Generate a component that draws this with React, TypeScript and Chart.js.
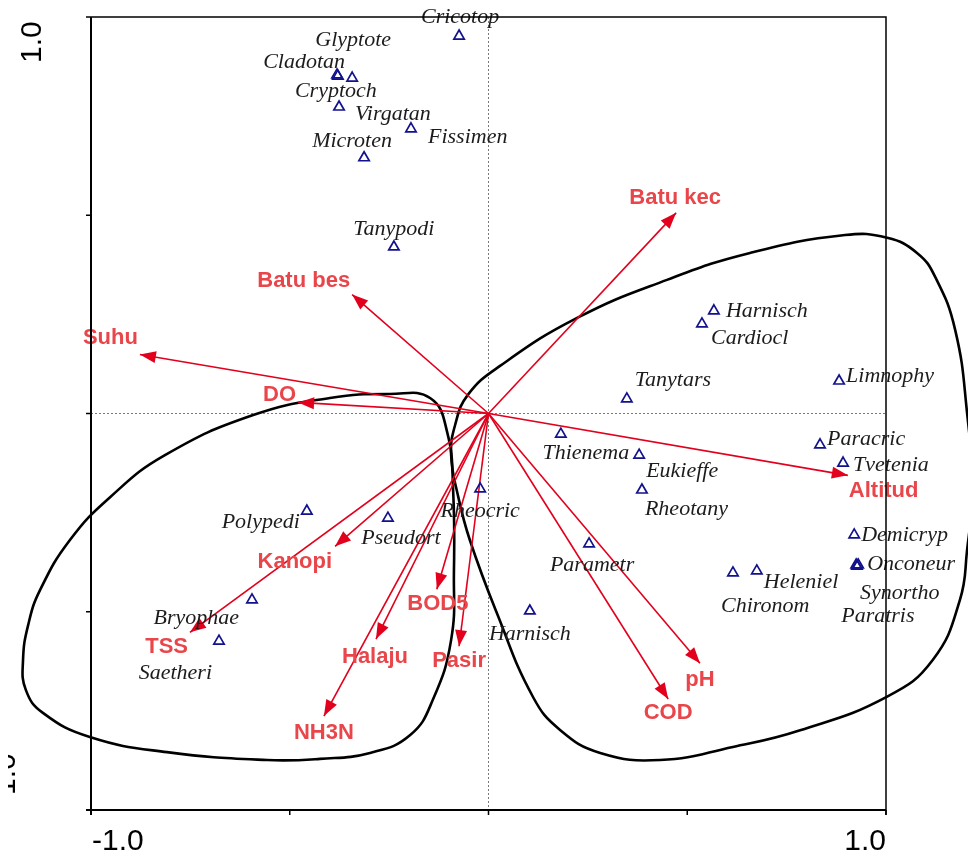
import React, { useEffect, useRef } from 'react';
import { Chart, registerables } from 'chart.js';

Chart.register(...registerables);

// ---- Species scores (axis 1, axis 2) ----
const speciesNames = [
  'Cricotop', 'Glyptote', 'Cladotan', 'Cryptoch', 'Virgatan', 'Fissimen', 'Microten', 'Tanypodi',
  'Harnisch', 'Cardiocl', 'Tanytars', 'Limnophy', 'Paracric', 'Tvetenia', 'Thienema', 'Eukieffe',
  'Rheotany', 'Demicryp', 'Onconeur', 'Synortho', 'Paratris', 'Heleniel', 'Chironom', 'Parametr',
  'Harnisch', 'Rheocric', 'Polypedi', 'Pseudort', 'Bryophae', 'Saetheri',
];
const speciesAxis1 = [
  -0.074, -0.343, -0.381, -0.379, -0.376, -0.195, -0.313, -0.238,
  0.567, 0.537, 0.348, 0.882, 0.834, 0.892, 0.182, 0.379,
  0.386, 0.920, 0.930, 0.927, 0.925, 0.675, 0.615, 0.253,
  0.104, -0.021, -0.457, -0.253, -0.595, -0.678,
];
const speciesAxis2 = [
  0.952, 0.846, 0.854, 0.851, 0.773, 0.718, 0.645, 0.420,
  0.259, 0.226, 0.037, 0.082, -0.079, -0.125, -0.052, -0.105,
  -0.193, -0.306, -0.382, -0.385, -0.382, -0.397, -0.402, -0.329,
  -0.498, -0.190, -0.246, -0.264, -0.470, -0.574,
];

// ---- Environmental variable vectors ----
const envNames = [
  'Batu kec', 'Batu bes', 'Suhu', 'DO', 'Altitud', 'Kanopi', 'TSS',
  'BOD5', 'Halaju', 'Pasir', 'NH3N', 'pH', 'COD',
];
const envAxis1 = [0.472, -0.343, -0.877, -0.479, 0.904, -0.386, -0.751, -0.130, -0.283, -0.074, -0.414, 0.532, 0.452];
const envAxis2 = [0.506, 0.300, 0.149, 0.028, -0.156, -0.335, -0.552, -0.443, -0.569, -0.587, -0.763, -0.630, -0.720];

// ---- Axis ticks ----
const axisTicks = [-1, -0.5, 0, 0.5, 1];
const axisTickLabels = ['-1.0', '1.0'];

// ---- Group envelopes (closed outlines) ----
const groupLeftX = [
  -0.248, -0.147, -0.104, -0.089, -0.087, -0.094, -0.140, -0.197, -0.298, -0.424, -0.557, -0.809,
  -1.003, -1.121, -1.164, -1.171, -1.158, -1.128, -1.053, -0.952, -0.814, -0.592, -0.399,
];
const groupLeftY = [
  0.049, 0.039, -0.047, -0.193, -0.402, -0.571, -0.722, -0.811, -0.856, -0.871, -0.874, -0.854,
  -0.816, -0.755, -0.697, -0.622, -0.533, -0.445, -0.319, -0.211, -0.105, -0.004, 0.039,
];
const groupRightX = [
  -0.094, -0.084, -0.052, 0.029, 0.223, 0.449, 0.658, 0.897, 1.003, 1.078, 1.124, 1.174, 1.204, 1.217,
  1.204, 1.186, 1.118, 1.003, 0.784, 0.615, 0.432, 0.281, 0.180, 0.112, 0.021, -0.047, -0.077,
];
const groupRightY = [
  -0.105, -0.029, 0.047, 0.120, 0.241, 0.337, 0.405, 0.450, 0.443, 0.405, 0.344, 0.211, 0.001, -0.193,
  -0.344, -0.470, -0.621, -0.714, -0.799, -0.841, -0.874, -0.856, -0.798, -0.715, -0.503, -0.319, -0.206,
];

// ---- Label layout (pixel offsets from the mark, alignment) ----
type Align = 'left' | 'right' | 'center';
const speciesLabelLayout: [number, number, Align][] = [
  [1, -19, 'center'], [1, -38, 'center'], [8, -13, 'right'], [-2, 15, 'center'], [16, 7, 'left'],
  [17, 8, 'left'], [-12, -17, 'center'], [0, -18, 'center'], [12, 0, 'left'], [9, 14, 'left'],
  [8, -19, 'left'], [7, -5, 'left'], [7, -6, 'left'], [10, 2, 'left'], [25, 19, 'center'],
  [7, 16, 'left'], [3, 19, 'left'], [7, 0, 'left'], [9, -1, 'left'], [3, 27, 'left'],
  [-15, 51, 'left'], [7, 11, 'left'], [-12, 33, 'left'], [3, 21, 'center'], [0, 23, 'center'],
  [0, 22, 'center'], [-7, 11, 'right'], [13, 20, 'center'], [-13, 18, 'right'], [-7, 32, 'right'],
];
const envLabelLayout: [number, number, Align][] = [
  [-1, -15, 'center'], [-2, -14, 'right'], [-2, -16, 'right'], [-2, -7, 'right'], [1, 16, 'left'],
  [-3, 16, 'right'], [-2, 15, 'right'], [1, 15, 'center'], [-1, 18, 'center'], [0, 15, 'center'],
  [0, 17, 'center'], [0, 17, 'center'], [0, 14, 'center'],
];

const ARROW_COLOR = '#E2001C';
const ENV_TEXT = '#E8464A';
const TRI_COLOR = '#12128C';

function closedLoop(xs: number[], ys: number[]) {
  const pts = xs.map((x, i) => ({ x, y: ys[i] }));
  const n = pts.length;
  return [pts[n - 1], ...pts, pts[0], pts[1]];
}

function envelopeDataset(xs: number[], ys: number[]) {
  const n = xs.length;
  return {
    type: 'line' as const,
    data: closedLoop(xs, ys),
    showLine: true,
    borderColor: '#000',
    borderWidth: 2.6,
    pointRadius: 0,
    tension: 0.45,
    fill: false,
    clip: false as any,
    order: 3,
    segment: {
      borderColor: (ctx: any) =>
        ctx.p0DataIndex === 0 || ctx.p0DataIndex === n + 1 ? 'rgba(0,0,0,0)' : '#000',
    },
  };
}

const biplotPlugin = {
  id: 'biplotDecor',
  beforeDatasetsDraw(chart: any) {
    const { ctx, scales } = chart;
    const xs = scales.x;
    const ys = scales.y;
    const x0 = xs.getPixelForValue(0);
    const y0 = ys.getPixelForValue(0);
    ctx.save();
    ctx.strokeStyle = '#7a7a7a';
    ctx.lineWidth = 1;
    ctx.setLineDash([2, 2]);
    ctx.beginPath();
    ctx.moveTo(x0, ys.getPixelForValue(1));
    ctx.lineTo(x0, ys.getPixelForValue(-1));
    ctx.moveTo(xs.getPixelForValue(-1), y0);
    ctx.lineTo(xs.getPixelForValue(1), y0);
    ctx.stroke();
    ctx.restore();
  },
  afterDatasetsDraw(chart: any) {
    const { ctx, scales } = chart;
    const xs = scales.x;
    const ys = scales.y;
    const ox = xs.getPixelForValue(0);
    const oy = ys.getPixelForValue(0);

    // arrowheads
    ctx.save();
    ctx.fillStyle = ARROW_COLOR;
    envAxis1.forEach((ex, i) => {
      const tx = xs.getPixelForValue(ex);
      const ty = ys.getPixelForValue(envAxis2[i]);
      const ang = Math.atan2(ty - oy, tx - ox);
      const len = 16;
      const hw = 6;
      const bx = tx - Math.cos(ang) * len;
      const by = ty - Math.sin(ang) * len;
      ctx.beginPath();
      ctx.moveTo(tx, ty);
      ctx.lineTo(bx - Math.sin(ang) * hw, by + Math.cos(ang) * hw);
      ctx.lineTo(bx + Math.sin(ang) * hw, by - Math.cos(ang) * hw);
      ctx.closePath();
      ctx.fill();
    });
    ctx.restore();

    // species labels
    ctx.save();
    ctx.font = 'italic 22px "Liberation Serif", "Times New Roman", serif';
    ctx.fillStyle = '#1c1c1c';
    ctx.textBaseline = 'middle';
    speciesNames.forEach((name, i) => {
      const px = xs.getPixelForValue(speciesAxis1[i]);
      const py = ys.getPixelForValue(speciesAxis2[i]);
      const [dx, dy, al] = speciesLabelLayout[i];
      ctx.textAlign = al;
      ctx.fillText(name, px + dx, py + dy);
    });
    ctx.restore();

    // env labels
    ctx.save();
    ctx.font = 'bold 22px "Liberation Sans", Arial, sans-serif';
    ctx.fillStyle = ENV_TEXT;
    ctx.textBaseline = 'middle';
    envNames.forEach((name, i) => {
      const px = xs.getPixelForValue(envAxis1[i]);
      const py = ys.getPixelForValue(envAxis2[i]);
      const [dx, dy, al] = envLabelLayout[i];
      ctx.textAlign = al;
      ctx.fillText(name, px + dx, py + dy);
    });
    ctx.restore();

    // frame and ticks
    const L = xs.getPixelForValue(-1);
    const R = xs.getPixelForValue(1);
    const T = ys.getPixelForValue(1);
    const B = ys.getPixelForValue(-1);
    ctx.save();
    ctx.strokeStyle = '#000';
    ctx.lineWidth = 2;
    ctx.beginPath();
    ctx.moveTo(L, T);
    ctx.lineTo(L, B + 5);
    ctx.moveTo(L - 5, B);
    ctx.lineTo(R, B);
    ctx.stroke();
    ctx.lineWidth = 1.5;
    ctx.beginPath();
    ctx.moveTo(L, T);
    ctx.lineTo(R, T);
    ctx.lineTo(R, B + 5);
    ctx.stroke();
    ctx.lineWidth = 1.5;
    ctx.beginPath();
    axisTicks.forEach((v) => {
      const yy = ys.getPixelForValue(v);
      ctx.moveTo(L - 5, yy);
      ctx.lineTo(L, yy);
      const xx = xs.getPixelForValue(v);
      ctx.moveTo(xx, B);
      ctx.lineTo(xx, B + 5);
    });
    ctx.stroke();

    // tick labels
    ctx.fillStyle = '#000';
    ctx.font = '30px "Liberation Sans", Arial, sans-serif';
    ctx.textBaseline = 'alphabetic';
    ctx.textAlign = 'left';
    ctx.fillText(axisTickLabels[0], L + 1, B + 40);
    ctx.textAlign = 'right';
    ctx.fillText(axisTickLabels[1], R, B + 40);
    // rotated y labels
    ctx.save();
    ctx.translate(L - 50, T + 46);
    ctx.rotate(-Math.PI / 2);
    ctx.textAlign = 'left';
    ctx.fillText(axisTickLabels[1], 0, 0);
    ctx.restore();
    // lower y label: only its edge shows at the page's left border
    ctx.save();
    ctx.beginPath();
    ctx.rect(L - 83, B - 70, 40, 70);
    ctx.clip();
    ctx.translate(L - 76, B - 5);
    ctx.rotate(-Math.PI / 2);
    ctx.textAlign = 'left';
    ctx.fillText(axisTickLabels[0], 0, 0);
    ctx.restore();
    ctx.restore();
  },
};

export default function App() {
  const canvasRef = useRef<HTMLCanvasElement | null>(null);

  useEffect(() => {
    const canvas = canvasRef.current;
    if (!canvas) return;

    const datasets: any[] = [];
    datasets.push({
      type: 'scatter',
      data: speciesAxis1.map((x, i) => ({ x, y: speciesAxis2[i] })),
      pointStyle: 'triangle',
      pointRadius: 6,
      pointBorderWidth: 1.7,
      borderColor: TRI_COLOR,
      backgroundColor: 'rgba(0,0,0,0)',
      showLine: false,
      order: 1,
    });
    envAxis1.forEach((ex, i) => {
      datasets.push({
        type: 'line',
        data: [
          { x: 0, y: 0 },
          { x: ex, y: envAxis2[i] },
        ],
        borderColor: ARROW_COLOR,
        borderWidth: 1.6,
        pointRadius: 0,
        tension: 0,
        fill: false,
        order: 2,
      });
    });
    datasets.push(envelopeDataset(groupLeftX, groupLeftY));
    datasets.push(envelopeDataset(groupRightX, groupRightY));

    const chart = new Chart(canvas, {
      type: 'scatter',
      data: { datasets },
      options: {
        animation: false,
        responsive: false,
        devicePixelRatio: 1,
        events: [],
        layout: { padding: { left: 91, right: 82, top: 17, bottom: 42 } },
        elements: { line: { capBezierPoints: false } },
        scales: {
          x: { type: 'linear', min: -1, max: 1, display: false },
          y: { type: 'linear', min: -1, max: 1, display: false },
        },
        plugins: { legend: { display: false }, tooltip: { enabled: false } },
      } as any,
      plugins: [biplotPlugin],
    });
    return () => chart.destroy();
  }, []);

  return (
    <div style={{ position: 'fixed', left: 0, top: 0, width: 968, height: 852, background: '#fff' }}>
      <canvas ref={canvasRef} width={968} height={852} style={{ display: 'block' }} />
    </div>
  );
}
